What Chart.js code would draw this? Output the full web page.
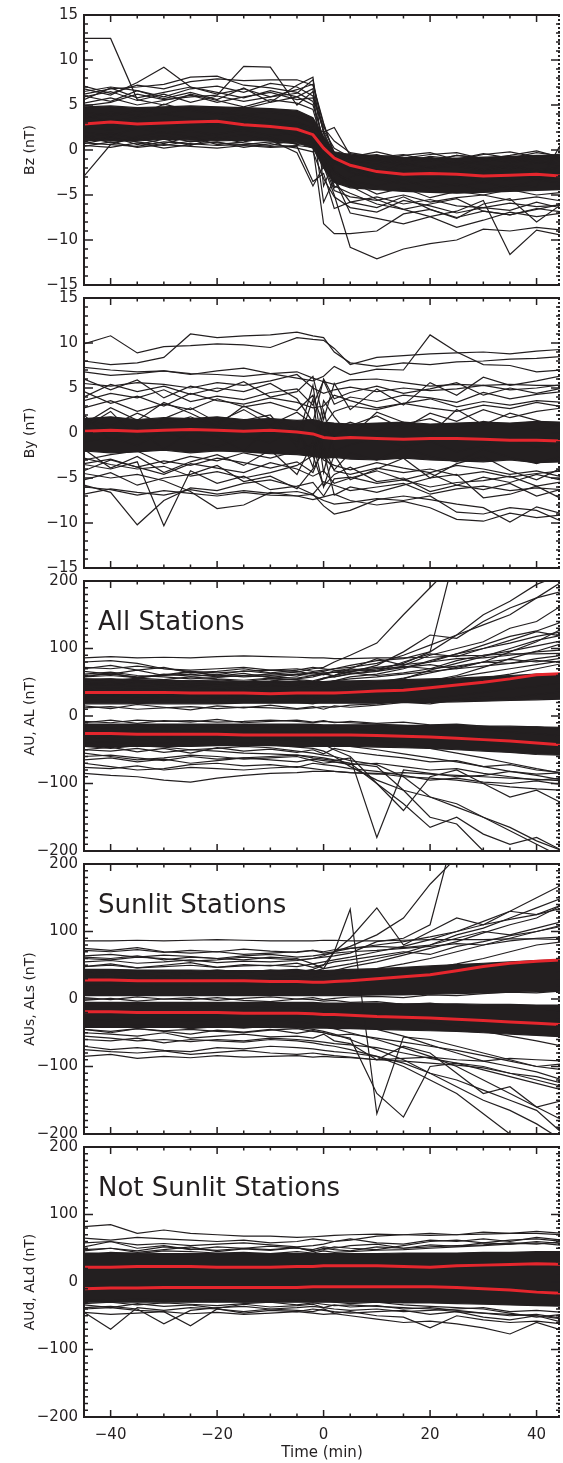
<!DOCTYPE html>
<html>
<head>
<meta charset="utf-8">
<script src="https://cdn.jsdelivr.net/npm/chart.js@4.4.1/dist/chart.umd.min.js"></script>
<style>
  body { margin: 0; background: #fff; width: 563px; height: 1463px; position: relative; overflow: hidden; }
  canvas { position: absolute; left: 0; }
</style>
</head>
<body>
<script>
// epoch time, minutes from the Bz turning
const times = [-45, -40, -35, -30, -25, -20, -15, -10, -5, -2, 0, 2, 5, 10, 15, 20, 25, 30, 35, 40, 45];
const xTicks = [-40, -20, 0, 20, 40];
const bTicks = [15, 10, 5, 0, -5, -10, -15];
const aTicks = [200, 100, 0, -100, -200];

// ---- Bz ----
const bzMean = [2.9, 3.1, 2.9, 3.0, 3.1, 3.2, 2.8, 2.6, 2.3, 1.7, 0.2, -0.9, -1.7, -2.4, -2.7, -2.6, -2.7, -2.9, -2.8, -2.7, -2.9];
const bzTop = [4.8, 4.9, 4.7, 4.8, 4.9, 4.8, 4.7, 4.6, 4.4, 3.6, 1.5, -0.2, -0.5, -0.6, -0.8, -0.9, -0.9, -0.8, -0.7, -0.6, -0.6];
const bzBottom = [1.1, 1.0, 1.0, 1.2, 1.1, 1.0, 1.1, 1.0, 0.8, 0.2, -2.0, -3.6, -4.2, -4.4, -4.6, -4.7, -4.8, -4.7, -4.6, -4.5, -4.4];
const bzTraces = [
  [12.4, 12.4, 5.6, 5.0, 6.2, 5.5, 4.8, 5.6, 5.2, 4.5, 0.5, -1.5, -2.0, -3.1, -2.5, -3.4, -2.9, -3.6, -2.8, -3.2, -3.0],
  [-2.9, 0.6, 1.5, 2.0, 1.4, 1.8, 2.2, 1.6, 1.9, 1.0, -0.8, -2.6, -3.4, -4.0, -3.3, -4.2, -3.8, -4.5, -3.9, -4.1, 1.1],
  [6.8, 6.1, 7.5, 9.2, 7.0, 6.4, 5.8, 6.6, 5.9, 5.0, 1.2, -1.0, -1.4, -1.2, -1.8, -1.0, -1.5, -1.1, -0.8, -1.3, -0.9],
  [6.2, 6.8, 7.0, 7.3, 8.1, 8.2, 7.2, 6.9, 6.4, 5.4, 1.0, -0.6, -1.1, -1.6, -1.0, -1.2, -0.6, -0.9, -1.3, -0.7, -1.0],
  [4.9, 5.3, 6.2, 5.6, 5.9, 6.1, 9.3, 9.2, 5.0, 6.5, 2.0, -0.5, -2.2, -1.7, -2.3, -2.0, -1.4, -2.2, -1.6, -2.4, -1.8],
  [3.5, 4.2, 3.8, 5.1, 4.4, 3.9, 4.6, 5.3, 7.2, 8.1, -1.0, -4.2, -3.0, -2.1, -2.8, -3.3, -2.5, -2.9, -3.4, -2.6, -3.1],
  [0.8, 0.6, 0.4, 0.9, 0.7, 0.5, 0.6, 0.4, 0.5, 0.3, -8.2, -9.3, -9.3, -9.0, -7.1, -6.6, -7.5, -6.8, -7.2, -6.5, -6.9],
  [1.4, 1.9, 1.2, 1.6, 0.9, 1.3, 1.7, 1.1, -0.3, -4.0, -1.8, -5.0, -10.8, -12.1, -11.0, -10.4, -10.0, -8.8, -9.0, -8.6, -8.9],
  [2.5, 2.2, 2.8, 2.4, 3.0, 2.6, 2.9, 3.2, 2.7, 2.0, 0.5, -2.2, -4.0, -5.5, -6.6, -7.4, -6.8, -5.6, -11.6, -8.9, -9.5],
  [3.0, 3.5, 2.7, 3.3, 2.8, 3.1, 3.6, 3.0, 2.9, 2.5, -2.0, -3.4, -5.8, -6.4, -5.2, -6.6, -7.6, -6.0, -5.4, -8.0, -5.9],
  [5.9, 6.5, 5.5, 6.2, 5.3, 6.0, 5.4, 5.9, 6.7, 7.3, 3.0, -0.6, -0.9, -0.5, -1.3, -0.7, -1.0, -0.4, -0.9, -0.3, -0.7],
  [0.4, 0.9, 0.3, 0.6, 0.4, 0.2, 0.5, 0.3, 0.4, -3.5, -2.6, -6.5, -5.8, -5.2, -6.0, -5.5, -6.2, -6.4, -5.9, -6.3, -6.1],
  [2.0, 1.6, 2.4, 1.9, 2.1, 1.7, 2.3, 2.5, 1.5, 1.2, -0.5, -2.5, -3.5, -4.9, -4.2, -5.3, -4.6, -5.0, -4.4, -5.0, -4.7],
  [4.2, 3.8, 4.4, 4.0, 4.6, 4.1, 3.9, 4.2, 3.7, 3.0, 0.8, -1.3, -2.5, -3.2, -3.8, -3.5, -4.0, -3.6, -4.2, -3.3, -3.7],
  [6.5, 7.0, 6.6, 5.9, 6.8, 7.1, 6.4, 7.4, 7.0, 6.0, 2.5, 1.0, -0.3, -0.8, -0.5, -1.2, -0.6, -0.9, -1.4, -1.0, -0.5],
  [0.7, 1.3, 0.9, 0.5, 1.0, 0.8, 0.6, 0.9, 0.7, 2.5, -5.8, -3.2, -7.0, -7.6, -8.2, -7.4, -8.6, -7.8, -6.9, -7.4, -7.0],
  [7.1, 6.3, 7.2, 6.8, 7.6, 7.9, 7.7, 7.8, 7.8, 7.2, 2.8, -0.3, -2.0, -2.6, -1.5, -1.9, -1.2, -1.6, -2.1, -1.4, -1.7],
  [3.8, 3.2, 3.6, 4.0, 3.5, 3.3, 3.9, 3.4, 3.1, 2.4, 2.0, 2.5, -0.6, -1.2, -1.6, -2.0, -1.8, -2.3, -1.9, -2.2, -2.0],
  [5.6, 6.9, 5.8, 6.4, 7.0, 6.2, 6.8, 5.9, 6.3, 7.8, 1.8, -0.8, -0.4, -1.0, -0.6, -0.3, -1.1, -0.5, -0.2, -0.8, -0.4],
  [0.5, 0.3, 0.8, 0.2, 0.6, 0.9, 0.3, 0.7, 0.2, -0.2, -3.2, -5.2, -6.4, -6.9, -5.6, -6.2, -7.0, -6.4, -6.7, -5.8, -6.5],
  [5.2, 5.8, 5.0, 5.5, 6.1, 5.3, 5.9, 6.4, 5.6, 5.8, 2.2, 0.2, -0.8, -0.2, -0.9, -0.5, -0.3, -1.0, -0.6, -0.1, -0.9],
  [1.6, 0.8, 1.3, 0.7, 1.5, 0.6, 0.9, 1.4, 0.6, 0.9, -1.5, -4.5, -5.2, -5.6, -5.0, -5.8, -5.3, -5.0, -5.6, -5.2, -5.7],
  [6.0, 5.4, 6.6, 5.7, 6.4, 5.6, 6.9, 5.3, 5.9, 6.8, -4.0, -1.2, -1.6, -0.9, -1.4, -0.8, -1.6, -1.3, -0.8, -1.5, -1.2],
  [0.9, 1.5, 0.6, 1.2, 0.5, 1.4, 0.8, 0.5, 1.2, 0.4, -0.3, -4.0, -4.8, -6.0, -6.6, -6.0, -5.4, -6.8, -7.2, -6.6, -6.0]
];

// ---- By ----
const byMean = [0.2, 0.3, 0.2, 0.3, 0.4, 0.3, 0.2, 0.3, 0.1, -0.1, -0.5, -0.6, -0.5, -0.6, -0.7, -0.6, -0.6, -0.7, -0.8, -0.8, -0.9];
const byTop = [1.6, 1.8, 1.5, 1.7, 1.6, 1.8, 1.5, 1.6, 1.4, 1.5, 1.2, 1.1, 1.0, 1.1, 1.2, 1.0, 1.1, 1.2, 1.1, 1.3, 1.2];
const byBottom = [-2.0, -2.2, -2.1, -1.9, -2.2, -2.0, -2.1, -2.3, -2.4, -2.6, -2.8, -2.7, -2.9, -3.0, -2.8, -3.0, -3.1, -3.2, -3.0, -3.3, -3.2];
const byTraces = [
  [9.9, 10.8, 8.9, 9.6, 9.7, 9.9, 9.8, 9.5, 10.6, 10.4, 10.3, 9.4, 7.6, 8.4, 8.6, 8.8, 8.9, 9.0, 8.8, 9.1, 9.3],
  [8.0, 7.6, 7.8, 8.4, 11.0, 10.6, 10.8, 10.9, 11.2, 10.8, 10.6, 9.0, 7.8, 7.4, 7.8, 7.6, 7.9, 8.0, 8.2, 8.3, 8.5],
  [6.8, 6.4, 6.6, 6.9, 6.5, 6.9, 7.2, 6.6, 6.1, 5.8, 6.3, 7.4, 6.5, 7.1, 7.0, 10.9, 9.0, 7.6, 7.5, 6.8, 7.0],
  [7.3, 7.0, 6.8, 6.9, 6.6, 6.5, 6.3, 6.6, 6.8, 6.1, 5.7, 5.4, 5.9, 6.0, 5.6, 5.2, 5.4, 5.3, 5.4, 5.3, 5.3],
  [5.5, 5.2, 5.6, 5.4, 5.0, 5.6, 5.3, 5.8, 6.5, 5.0, 4.4, 4.8, 5.1, 4.6, 5.0, 4.7, 4.9, 5.3, 4.8, 5.0, 5.4],
  [-5.8, -6.6, -10.2, -7.5, -6.1, -6.4, -5.6, -5.2, -6.0, -6.8, -5.4, -5.8, -6.4, -6.0, -5.6, -6.8, -6.2, -5.9, -6.4, -6.1, -6.3],
  [-3.5, -4.0, -3.2, -10.3, -4.2, -5.6, -4.8, -6.3, -5.9, -5.5, -7.0, -5.1, -4.9, -5.6, -5.2, -6.0, -5.5, -5.3, -4.8, -5.9, -5.4],
  [-4.5, -5.0, -4.6, -5.3, -6.5, -8.4, -8.0, -6.6, -7.0, -7.4, -7.1, -6.8, -7.5, -8.0, -7.6, -8.3, -9.6, -9.8, -8.9, -9.4, -9.1],
  [-6.0, -6.3, -6.9, -6.4, -6.7, -7.0, -6.6, -6.9, -7.0, -6.8, -8.1, -9.0, -8.6, -7.4, -7.0, -7.4, -7.9, -8.3, -9.9, -8.2, -9.0],
  [-2.8, -3.5, -4.0, -3.7, -4.8, -4.3, -5.0, -4.4, -3.6, -2.5, -5.9, -4.6, -3.8, -5.4, -5.0, -6.5, -5.8, -6.3, -5.6, -7.0, -6.2],
  [3.6, 4.4, 3.9, 4.8, 3.5, 4.1, 3.7, 4.5, 4.9, 3.1, 5.8, 3.2, 4.0, 3.5, 4.2, 3.9, 3.4, 4.5, 3.8, 4.3, 4.6],
  [-1.0, -0.5, -1.4, 0.2, -0.8, -1.6, -0.4, -1.1, 0.6, -3.8, 2.5, -2.0, -1.3, -0.6, -1.5, -0.9, -2.1, -1.4, -0.7, -1.6, -1.2],
  [1.5, 0.8, 2.2, 1.0, 1.8, 0.6, 1.4, 2.0, -1.5, 3.8, -4.4, 0.5, 1.2, 0.2, 1.0, 1.6, 0.4, 1.3, 0.8, 0.3, 1.1],
  [-4.2, -3.0, -3.8, -4.6, -3.4, -3.9, -4.4, -3.3, -4.0, -4.8, -4.2, -5.6, -5.0, -4.2, -5.2, -4.5, -5.8, -4.9, -5.5, -4.6, -5.3],
  [4.6, 3.3, 4.1, 3.0, 4.4, 3.6, 3.2, 3.9, 3.4, 2.8, 3.0, 4.2, 3.6, 2.8, 3.3, 3.8, 2.9, 3.5, 3.1, 3.6, 3.4],
  [-3.0, -2.4, -2.0, -3.4, -2.6, -3.1, -2.2, -2.8, -2.0, -1.2, -3.0, -3.6, -4.1, -3.3, -3.9, -4.4, -3.6, -4.0, -4.6, -4.2, -4.9],
  [0.6, 2.4, -0.6, 1.6, 2.8, 1.2, 2.6, 0.9, 2.3, 1.0, 0.4, -0.4, 0.8, 1.9, 0.5, 2.2, 1.3, 2.6, 1.7, 2.4, 2.8],
  [-6.8, -6.2, -6.6, -6.9, -6.3, -6.8, -6.4, -6.7, -6.5, -6.9, -7.5, -7.9, -7.7, -7.3, -7.5, -7.0, -8.8, -9.0, -8.3, -8.6, -9.9],
  [2.0, -0.8, 0.5, -1.8, 0.2, -0.4, -2.0, 0.8, -0.9, 5.3, -2.5, -4.1, -2.2, -3.0, -1.6, -2.6, -3.2, -1.8, -2.7, -3.4, -2.5],
  [6.0, 4.8, 5.9, 3.9, 5.2, 4.6, 5.7, 4.0, 4.6, 6.3, 1.5, 5.5, 2.6, 4.9, 3.1, 5.6, 4.2, 6.2, 5.3, 5.8, 6.4],
  [-5.2, -4.4, -5.8, -5.0, -4.6, -3.6, -5.4, -4.8, -6.2, -4.0, -2.0, -6.9, -6.0, -6.6, -5.8, -5.0, -4.6, -7.2, -6.8, -5.9, -7.4],
  [2.8, 3.6, 2.4, 3.2, 2.6, 3.8, 2.9, 3.4, 2.5, 4.2, 0.8, 2.4, 3.0, 2.6, 3.3, 2.8, 2.4, 3.1, 2.7, 3.4, 2.9],
  [-3.4, -2.9, -3.8, -3.1, -3.6, -2.8, -3.3, -3.9, -3.2, -4.4, -1.5, -4.2, -4.6, -3.9, -4.4, -4.0, -4.7, -4.3, -4.9, -4.5, -4.2],
  [4.0, 5.4, 4.6, 5.2, 4.3, 5.0, 4.6, 5.5, 3.8, 1.2, 6.0, 3.8, 4.5, 5.2, 4.4, 4.9, 5.6, 4.2, 5.0, 4.4, 5.0],
  [-1.8, -3.9, -2.6, -4.4, -3.2, -2.4, -3.6, -1.9, -4.6, -1.0, -6.0, -2.4, -5.2, -4.0, -2.8, -5.0, -3.4, -2.6, -4.2, -5.2, -3.8],
  [1.0, 2.8, 1.4, 3.4, 2.2, 0.8, 3.0, 1.6, 0.4, -2.6, 3.6, 1.8, -0.4, 2.3, 1.2, -0.2, 2.6, 0.9, 2.2, 1.4, 0.6]
];

// ---- AU / AL, all stations ----
const auMean = [35, 35, 35, 35, 34, 34, 34, 33, 34, 34, 34, 34, 35, 37, 38, 42, 46, 50, 55, 61, 63];
const alMean = [-26, -26, -27, -27, -27, -27, -28, -28, -28, -28, -28, -28, -28, -29, -30, -31, -33, -35, -37, -40, -43];
const auTop = [55, 55, 54, 53, 52, 52, 51, 51, 51, 51, 51, 52, 52, 53, 54, 55, 56, 58, 60, 62, 62];
const auBottom = [18, 18, 18, 18, 18, 18, 19, 19, 19, 19, 19, 19, 19, 19, 20, 20, 21, 22, 23, 24, 25];
const alTop = [-12, -12, -12, -12, -12, -12, -12, -12, -12, -12, -13, -13, -13, -13, -14, -14, -14, -15, -15, -16, -17];
const alBottom = [-45, -45, -45, -45, -45, -44, -44, -44, -45, -45, -45, -45, -45, -46, -47, -48, -50, -52, -54, -57, -58];
const allTraces = [
  [86, 88, 86, 87, 86, 88, 89, 88, 87, 86, 86, 85, 85, 86, 86, 87, 89, 90, 92, 92, 93],
  [80, 82, 78, 70, 66, 64, 66, 68, 66, 62, 64, 65, 68, 72, 76, 80, 85, 86, 90, 95, 98],
  [72, 70, 74, 70, 68, 70, 72, 68, 70, 66, 68, 70, 72, 78, 90, 105, 120, 135, 150, 175, 185],
  [60, 62, 58, 60, 62, 58, 60, 62, 65, 70, 72, 80, 90, 108, 150, 190, 230, 250, 260, 260, 260],
  [50, 48, 52, 50, 46, 48, 50, 52, 55, 58, 62, 60, 66, 70, 78, 95, 120, 150, 170, 195, 210],
  [45, 47, 44, 46, 48, 45, 47, 44, 46, 50, 55, 60, 70, 85, 75, 90, 100, 110, 130, 140, 165],
  [40, 42, 39, 41, 43, 40, 42, 45, 44, 42, 48, 52, 58, 62, 70, 82, 92, 105, 118, 126, 140],
  [30, 32, 28, 31, 29, 33, 30, 32, 29, 31, 33, 36, 40, 48, 55, 68, 78, 88, 100, 112, 120],
  [25, 22, 26, 24, 23, 25, 24, 22, 24, 26, 28, 30, 32, 38, 44, 52, 60, 72, 85, 96, 108],
  [62, 65, 60, 58, 55, 57, 60, 58, 56, 60, 62, 65, 64, 60, 64, 70, 74, 80, 78, 85, 90],
  [70, 75, 68, 72, 64, 66, 70, 64, 68, 72, 70, 68, 66, 70, 72, 76, 70, 80, 84, 80, 86],
  [20, 24, 18, 22, 20, 19, 21, 23, 20, 18, 22, 24, 26, 30, 36, 40, 48, 56, 62, 70, 78],
  [12, 14, 10, 12, 14, 11, 13, 12, 10, 12, 14, 13, 16, 18, 22, 26, 30, 35, 40, 44, 50],
  [55, 52, 56, 54, 58, 55, 53, 56, 54, 52, 56, 60, 65, 75, 95, 120, 115, 140, 160, 175, 200],
  [36, 38, 35, 37, 36, 38, 39, 37, 36, 35, 38, 40, 44, 50, 56, 64, 72, 80, 95, 110, 130],
  [52, 55, 50, 53, 52, 54, 51, 55, 53, 50, 56, 58, 62, 66, 72, 80, 92, 100, 108, 118, 125],
  [58, 60, 57, 62, 59, 61, 58, 60, 62, 64, 66, 70, 75, 82, 85, 95, 250, 260, 260, 260, 260],
  [48, 46, 50, 47, 45, 49, 46, 48, 50, 47, 49, 52, 55, 58, 62, 66, 70, 74, 78, 82, 80],
  [28, 30, 27, 29, 31, 28, 30, 29, 27, 30, 32, 34, 36, 40, 45, 50, 58, 64, 70, 76, 82],
  [58, 64, 56, 61, 66, 59, 63, 57, 62, 60, 64, 58, 63, 68, 74, 70, 82, 90, 96, 104, 112],
  [15, 11, 17, 13, 9, 15, 12, 16, 11, 14, 10, 15, 13, 16, 20, 18, 24, 28, 26, 32, 36],
  [66, 62, 68, 60, 65, 61, 67, 63, 59, 65, 61, 67, 70, 66, 80, 92, 88, 100, 112, 125, 118],
  [-85, -88, -90, -95, -98, -92, -88, -85, -84, -82, -82, -82, -84, -86, -84, -86, -88, -90, -92, -94, -96],
  [-70, -75, -80, -78, -72, -70, -74, -72, -76, -70, -72, -74, -78, -82, -88, -95, -92, -98, -100, -96, -102],
  [-60, -58, -62, -66, -60, -64, -62, -60, -58, -62, -64, -66, -62, -180, -80, -85, -90, -88, -82, -86, -84],
  [-50, -52, -48, -54, -50, -52, -55, -56, -58, -60, -62, -65, -70, -75, -110, -150, -160, -200, -210, -220, -230],
  [-45, -48, -44, -46, -50, -48, -45, -47, -52, -55, -58, -60, -66, -72, -90, -120, -130, -150, -165, -185, -200],
  [-40, -38, -42, -40, -44, -42, -40, -43, -46, -48, -52, -60, -75, -95, -110, -120, -135, -150, -170, -190, -210],
  [-30, -34, -32, -30, -35, -33, -31, -34, -36, -38, -42, -50, -60, -100, -140, -90, -80, -100, -120, -110, -130],
  [-22, -25, -20, -23, -21, -24, -22, -25, -23, -22, -24, -26, -30, -36, -42, -48, -55, -62, -70, -78, -85],
  [-15, -18, -14, -16, -15, -17, -14, -16, -15, -18, -16, -18, -20, -22, -26, -30, -34, -40, -45, -52, -58],
  [-8, -10, -6, -8, -7, -9, -8, -6, -8, -10, -8, -9, -10, -12, -14, -16, -18, -20, -24, -26, -30],
  [-55, -60, -65, -62, -58, -60, -64, -62, -60, -66, -70, -68, -72, -70, -75, -80, -78, -85, -90, -95, -92],
  [-35, -30, -36, -33, -38, -34, -32, -36, -34, -30, -36, -40, -45, -50, -56, -62, -68, -75, -82, -88, -95],
  [-65, -62, -68, -64, -70, -66, -62, -65, -68, -64, -66, -68, -70, -100, -130, -165, -150, -175, -190, -180, -200],
  [-76, -78, -74, -80, -76, -78, -80, -77, -75, -78, -80, -82, -84, -85, -90, -92, -95, -100, -105, -108, -110],
  [-10, -6, -11, -7, -9, -5, -10, -8, -6, -9, -7, -10, -8, -11, -9, -13, -12, -15, -18, -16, -20],
  [-50, -46, -53, -48, -55, -47, -52, -49, -54, -50, -56, -48, -53, -58, -62, -68, -66, -75, -72, -80, -84]
];

// ---- AUs / ALs, sunlit stations ----
const sunAuMean = [28, 28, 27, 27, 27, 27, 27, 26, 26, 25, 25, 26, 27, 30, 33, 36, 42, 48, 53, 56, 58];
const sunAlMean = [-19, -19, -20, -20, -20, -20, -21, -21, -21, -22, -23, -23, -24, -26, -27, -28, -30, -32, -34, -36, -38];
const sunAuTop = [44, 44, 43, 43, 43, 42, 42, 42, 42, 42, 42, 43, 44, 45, 47, 49, 51, 53, 55, 57, 58];
const sunAuBottom = [5, 5, 5, 5, 5, 5, 5, 5, 5, 5, 5, 5, 5, 6, 6, 7, 8, 9, 10, 11, 12];
const sunAlTop = [-5, -5, -5, -5, -5, -5, -5, -5, -5, -5, -6, -6, -6, -6, -7, -7, -7, -8, -8, -9, -9];
const sunAlBottom = [-42, -42, -42, -42, -42, -42, -42, -42, -43, -43, -43, -44, -44, -45, -46, -47, -48, -50, -52, -54, -56];
const sunTraces = [
  [86, 86, 87, 86, 87, 88, 87, 86, 86, 86, 87, 87, 86, 86, 87, 88, 88, 88, 89, 89, 88],
  [75, 72, 76, 70, 68, 70, 66, 68, 70, 72, 68, 70, 75, 80, 85, 92, 100, 110, 118, 125, 135],
  [62, 60, 64, 58, 62, 60, 58, 62, 60, 52, 45, 70, 133, -170, -56, -60, -70, -80, -90, -100, -105],
  [60, 58, 62, 60, 56, 58, 62, 60, 58, 60, 64, 70, 78, 95, 120, 170, 210, 220, 230, 240, 250],
  [55, 57, 53, 55, 58, 54, 56, 55, 57, 60, 62, 64, 68, 85, 90, 110, 260, 260, 260, 260, 260],
  [48, 50, 46, 48, 50, 47, 49, 50, 48, 52, 55, 58, 62, 70, 78, 88, 100, 115, 130, 150, 170],
  [40, 42, 38, 41, 39, 43, 40, 42, 44, 41, 45, 48, 52, 60, 68, 80, 95, 105, 120, 135, 150],
  [35, 33, 36, 34, 37, 35, 33, 36, 34, 37, 40, 42, 48, 55, 65, 75, 85, 98, 110, 120, 140],
  [30, 32, 29, 31, 30, 28, 31, 29, 30, 32, 34, 36, 40, 45, 52, 60, 70, 80, 90, 100, 110],
  [20, 22, 19, 21, 20, 22, 21, 20, 22, 20, 23, 25, 28, 32, 38, 45, 52, 60, 70, 80, 85],
  [64, 66, 62, 65, 63, 60, 64, 66, 62, 64, 66, 68, 70, 72, 75, 78, 82, 80, 86, 90, 92],
  [72, 70, 73, 69, 72, 70, 74, 71, 69, 72, 70, 73, 75, 78, 76, 80, 90, 100, 95, 105, 115],
  [40, 38, 42, 40, 37, 41, 39, 43, 40, 44, 50, 70, 90, 135, 80, 100, 120, 110, 130, 125, 140],
  [48, 52, 46, 50, 54, 47, 51, 49, 53, 47, 51, 55, 58, 64, 70, 66, 78, 85, 94, 100, 108],
  [2, -1, 3, 0, 2, -2, 1, 3, 0, 2, -1, 1, 3, 4, 2, 6, 5, 8, 10, 9, 12],
  [-50, -52, -55, -50, -58, -55, -52, -56, -55, -58, -52, -62, -66, -90, -70, -80, -110, -140, -130, -160, -150],
  [-85, -82, -88, -85, -87, -84, -86, -85, -84, -86, -85, -86, -87, -90, -88, -86, -90, -92, -88, -90, -92],
  [-70, -75, -72, -76, -78, -72, -74, -70, -72, -74, -76, -78, -80, -85, -100, -120, -140, -170, -200, -220, -240],
  [-60, -62, -58, -65, -60, -62, -64, -60, -62, -65, -68, -70, -75, -85, -95, -110, -120, -135, -150, -165, -200],
  [-40, -42, -38, -40, -44, -41, -43, -40, -42, -45, -48, -52, -60, -75, -90, -110, -130, -150, -165, -185, -210],
  [-30, -32, -28, -30, -33, -31, -29, -32, -34, -36, -40, -44, -50, -60, -72, -85, -100, -120, -140, -160, -180],
  [-20, -22, -18, -21, -23, -20, -22, -24, -22, -25, -28, -30, -35, -45, -55, -68, -80, -92, -100, -108, -120],
  [-10, -12, -9, -11, -13, -10, -12, -11, -13, -12, -14, -16, -18, -22, -28, -35, -40, -48, -55, -62, -70],
  [-55, -58, -62, -60, -63, -60, -62, -58, -60, -62, -64, -66, -68, -72, -80, -88, -95, -100, -110, -120, -130],
  [-75, -78, -80, -77, -82, -79, -76, -80, -82, -80, -82, -84, -86, -90, -92, -95, -98, -102, -110, -115, -125],
  [-45, -48, -44, -47, -45, -48, -50, -46, -44, -48, -50, -54, -58, -140, -175, -100, -95, -105, -115, -125, -135],
  [-45, -50, -44, -48, -52, -46, -49, -45, -51, -47, -50, -54, -52, -58, -64, -70, -76, -84, -92, -100, -96],
  [-2, 1, -3, 0, -1, 2, -2, -4, 0, -1, -3, -2, -5, -4, -8, -6, -10, -12, -15, -14, -18]
];

// ---- AUd / ALd, stations not sunlit ----
const nightAuMean = [22, 22, 23, 23, 23, 22, 22, 22, 23, 23, 24, 24, 24, 24, 23, 22, 24, 25, 26, 27, 26];
const nightAlMean = [-10, -9, -9, -8, -8, -8, -8, -8, -8, -7, -7, -7, -7, -7, -7, -7, -8, -10, -12, -15, -17];
const nightTop = [43, 43, 43, 42, 42, 42, 42, 42, 42, 42, 42, 42, 42, 42, 43, 43, 43, 44, 44, 45, 45];
const nightBottom = [-30, -30, -30, -30, -30, -30, -30, -30, -30, -30, -30, -30, -30, -30, -31, -31, -32, -33, -34, -35, -36];
const nightTraces = [
  [82, 85, 72, 77, 72, 70, 68, 68, 66, 67, 68, 69, 70, 71, 70, 69, 70, 71, 72, 72, 70],
  [65, 62, 66, 64, 62, 60, 62, 58, 60, 64, 62, 60, 62, 68, 70, 72, 70, 74, 72, 75, 72],
  [58, 60, 55, 57, 54, 56, 58, 55, 52, 54, 56, 60, 64, 58, 56, 62, 60, 64, 60, 66, 62],
  [52, 60, 50, 54, 48, 52, 50, 53, 50, 48, 52, 50, 54, 56, 50, 52, 54, 55, 58, 56, 60],
  [48, 50, 46, 52, 49, 47, 50, 48, 51, 46, 48, 52, 50, 48, 54, 60, 62, 58, 62, 64, 60],
  [40, 44, 42, 46, 45, 43, 44, 42, 45, 43, 46, 44, 45, 47, 48, 50, 52, 54, 56, 58, 54],
  [46, 50, 44, 48, 52, 45, 49, 47, 51, 45, 50, 48, 46, 52, 50, 55, 53, 58, 56, 60, 57],
  [-45, -70, -38, -42, -38, -40, -44, -40, -38, -36, -38, -40, -42, -40, -44, -42, -40, -38, -44, -42, -45],
  [-40, -38, -42, -44, -65, -40, -46, -42, -44, -40, -42, -44, -46, -44, -42, -48, -44, -46, -48, -50, -55],
  [-38, -36, -40, -62, -42, -38, -36, -40, -42, -44, -40, -46, -44, -50, -52, -68, -50, -56, -60, -58, -62],
  [-45, -48, -46, -44, -47, -45, -48, -46, -44, -46, -48, -47, -50, -55, -60, -58, -62, -68, -77, -60, -72],
  [-32, -30, -34, -31, -33, -35, -32, -30, -34, -31, -33, -35, -34, -36, -38, -40, -44, -52, -56, -50, -60],
  [-26, -28, -25, -27, -29, -26, -30, -28, -26, -29, -27, -30, -32, -30, -34, -36, -38, -40, -46, -52, -48],
  [-34, -38, -32, -36, -34, -39, -33, -37, -35, -33, -38, -34, -37, -35, -40, -38, -42, -46, -50, -48, -54]
];

const ink = '#231f20';
const red = '#e5262d';
const font = 'DejaVu Sans';

const panels = [
  { title: 'Bz (nT)', min: -15, max: 15, ticks: bTicks, minor: 1, major: 5, note: '',
    means: [bzMean], bands: [[bzTop, bzBottom]], traces: bzTraces },
  { title: 'By (nT)', min: -15, max: 15, ticks: bTicks, minor: 1, major: 5, note: '',
    means: [byMean], bands: [[byTop, byBottom]], traces: byTraces },
  { title: 'AU, AL (nT)', min: -200, max: 200, ticks: aTicks, minor: 10, major: 100, note: 'All Stations',
    means: [auMean, alMean], bands: [[auTop, auBottom], [alTop, alBottom]], traces: allTraces },
  { title: 'AUs, ALs (nT)', min: -200, max: 200, ticks: aTicks, minor: 10, major: 100, note: 'Sunlit Stations',
    means: [sunAuMean, sunAlMean], bands: [[sunAuTop, sunAuBottom], [sunAlTop, sunAlBottom]], traces: sunTraces },
  { title: 'AUd, ALd (nT)', min: -200, max: 200, ticks: aTicks, minor: 10, major: 100, note: 'Not Sunlit Stations',
    means: [nightAuMean, nightAlMean], bands: [[nightTop, nightBottom]], traces: nightTraces }
];

function pts(vals) {
  return vals.map(function (v, i) { return { x: times[i], y: v }; });
}

function minus(v) {
  return v < 0 ? '\u2212' + Math.abs(v) : String(v);
}

// box with inward ticks on all four sides, dotted right edge
const frame = {
  id: 'frame',
  afterDraw: function (chart, args, opts) {
    const ctx = chart.ctx, a = chart.chartArea;
    const xs = chart.scales.x, ys = chart.scales.y;
    ctx.save();
    ctx.strokeStyle = ink;
    ctx.lineWidth = 1.5;
    ctx.beginPath();
    for (let t = -40; t <= 40; t += 5) {
      const x = xs.getPixelForValue(t);
      const len = t % 20 === 0 ? 7 : 3.5;
      ctx.moveTo(x, a.bottom); ctx.lineTo(x, a.bottom - len);
      ctx.moveTo(x, a.top); ctx.lineTo(x, a.top + len);
    }
    const n = Math.round((opts.max - opts.min) / opts.minor);
    for (let k = 1; k < n; k++) {
      const v = opts.min + k * opts.minor;
      const y = ys.getPixelForValue(v);
      const len = Math.round(v / opts.major) * opts.major === v ? 9 : 4;
      ctx.moveTo(a.left, y); ctx.lineTo(a.left + len, y);
      ctx.moveTo(a.right, y); ctx.lineTo(a.right - len, y);
    }
    ctx.stroke();
    ctx.lineWidth = 2;
    ctx.beginPath();
    ctx.moveTo(a.right, a.top); ctx.lineTo(a.left, a.top);
    ctx.lineTo(a.left, a.bottom); ctx.lineTo(a.right, a.bottom);
    ctx.stroke();
    ctx.setLineDash([2, 2]);
    ctx.beginPath();
    ctx.moveTo(a.right - 1, a.top); ctx.lineTo(a.right - 1, a.bottom);
    ctx.stroke();
    ctx.restore();
  }
};

const panelNote = {
  id: 'panelNote',
  afterDatasetsDraw: function (chart, args, opts) {
    if (!opts.text) return;
    const ctx = chart.ctx, a = chart.chartArea;
    ctx.save();
    ctx.font = '26px "' + font + '"';
    ctx.fillStyle = ink;
    ctx.textBaseline = 'alphabetic';
    ctx.fillText(opts.text, a.left + 14, a.top + 49);
    ctx.restore();
  }
};

panels.forEach(function (p, i) {
  const last = i === panels.length - 1;
  const top = i * 283;
  const h = last ? 1463 - top : 300;
  const canvas = document.createElement('canvas');
  canvas.width = 563;
  canvas.height = h;
  canvas.style.top = top + 'px';
  document.body.appendChild(canvas);

  const datasets = [];
  p.means.forEach(function (m) {
    datasets.push({ data: pts(m), borderColor: red, borderWidth: 3, fill: false, order: 0 });
  });
  p.bands.forEach(function (b) {
    datasets.push({ data: pts(b[0]), borderColor: ink, borderWidth: 1.2, backgroundColor: ink, fill: '+1', order: 2 });
    datasets.push({ data: pts(b[1]), borderColor: ink, borderWidth: 1.2, fill: false, order: 2 });
  });
  p.traces.forEach(function (t) {
    datasets.push({ data: pts(t), borderColor: ink, borderWidth: 1.2, fill: false, order: 1 });
  });

  new Chart(canvas.getContext('2d'), {
    type: 'line',
    data: { datasets: datasets },
    options: {
      responsive: false,
      animation: false,
      devicePixelRatio: 1,
      layout: { padding: { top: 11, right: 3, left: 0, bottom: 0 } },
      elements: { point: { radius: 0 }, line: { tension: 0 } },
      plugins: {
        legend: { display: false },
        tooltip: { enabled: false },
        frame: { min: p.min, max: p.max, minor: p.minor, major: p.major },
        panelNote: { text: p.note }
      },
      scales: {
        x: {
          type: 'linear', min: -45, max: 44.4,
          grid: { display: false, drawTicks: false },
          border: { display: false },
          afterBuildTicks: function (s) { s.ticks = xTicks.map(function (v) { return { value: v }; }); },
          afterFit: function (s) { s.height = h - 285; },
          ticks: { display: last, padding: 9, color: ink, font: { family: font, size: 15 }, callback: minus, maxRotation: 0 },
          title: { display: last, text: 'Time (min)', color: ink, font: { family: font, size: 15 }, padding: { top: 0, bottom: 1 } }
        },
        y: {
          type: 'linear', min: p.min, max: p.max,
          grid: { display: false, drawTicks: false },
          border: { display: false },
          afterBuildTicks: function (s) { s.ticks = p.ticks.map(function (v) { return { value: v }; }); },
          afterFit: function (s) { s.width = 84; },
          ticks: { padding: 6, color: ink, font: { family: font, size: 15 }, callback: minus },
          title: { display: true, text: p.title, color: ink, font: { family: font, size: 14 }, padding: { top: 22, bottom: 0 } }
        }
      }
    },
    plugins: [frame, panelNote]
  });
});
</script>
</body>
</html>
